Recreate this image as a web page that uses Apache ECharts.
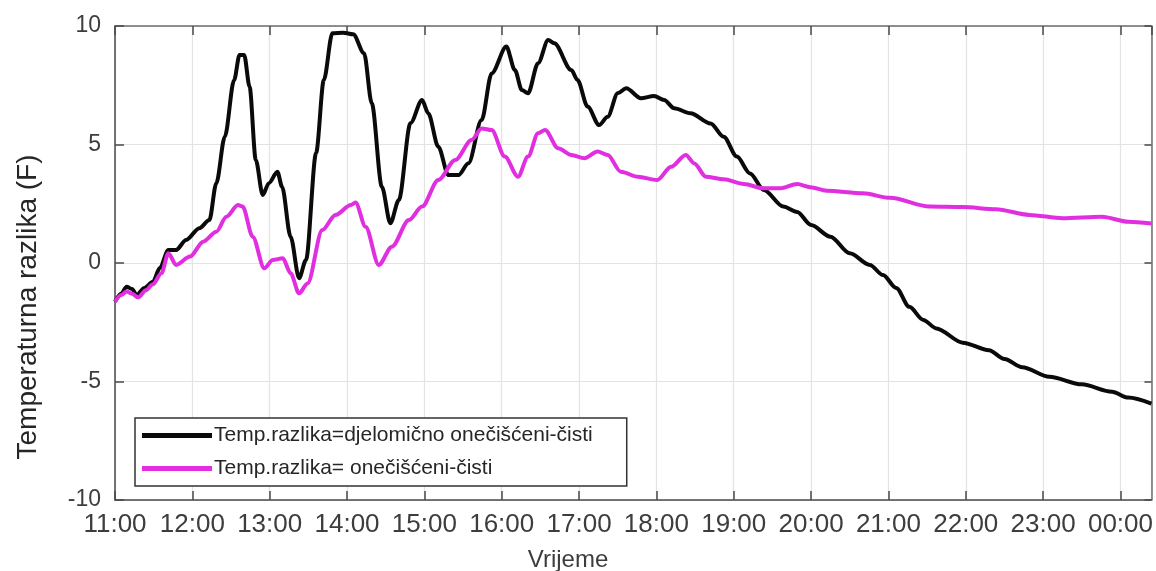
<!DOCTYPE html>
<html>
<head>
<meta charset="utf-8">
<script src="https://cdn.jsdelivr.net/npm/echarts@6/dist/echarts.min.js"></script>
<style>
  html, body { margin: 0; padding: 0; background: #fff; }
  #chart { width: 1156px; height: 571px; }
</style>
</head>
<body>
<div id="chart"></div>
<script>
// Time of day in decimal hours (24+ means after midnight)
const hoursPartly = [11.00, 11.08, 11.15, 11.22, 11.28, 11.38, 11.49, 11.58, 11.69, 11.79, 11.92, 12.09, 12.22, 12.31, 12.42, 12.54, 12.61, 12.67, 12.74, 12.82, 12.91, 12.99, 13.10, 13.16, 13.27, 13.38, 13.47, 13.60, 13.70, 13.81, 13.95, 14.08, 14.22, 14.32, 14.45, 14.56, 14.67, 14.82, 14.97, 15.05, 15.18, 15.31, 15.44, 15.57, 15.74, 15.87, 16.06, 16.17, 16.26, 16.34, 16.47, 16.60, 16.68, 16.90, 16.98, 17.11, 17.26, 17.37, 17.50, 17.61, 17.80, 17.97, 18.10, 18.23, 18.44, 18.70, 18.87, 19.04, 19.21, 19.39, 19.64, 19.82, 20.00, 20.25, 20.50, 20.76, 20.93, 21.10, 21.27, 21.45, 21.62, 21.96, 22.30, 22.50, 22.73, 23.08, 23.50, 23.89, 24.10, 24.40];
const tempPartly = [-1.63, -1.30, -1.00, -1.10, -1.35, -1.05, -0.79, -0.21, 0.55, 0.55, 0.97, 1.47, 1.81, 3.37, 5.33, 7.72, 8.78, 8.78, 7.44, 4.35, 2.87, 3.37, 3.85, 3.22, 1.11, -0.64, 0.13, 4.64, 7.72, 9.69, 9.72, 9.65, 8.85, 6.74, 3.22, 1.68, 2.66, 5.90, 6.88, 6.32, 4.91, 3.71, 3.71, 4.21, 6.03, 8.00, 9.13, 8.14, 7.30, 7.16, 8.43, 9.41, 9.27, 8.14, 7.72, 6.60, 5.82, 6.17, 7.16, 7.37, 6.95, 7.05, 6.88, 6.53, 6.32, 5.89, 5.33, 4.49, 3.78, 3.08, 2.38, 2.15, 1.60, 1.11, 0.41, -0.08, -0.51, -1.05, -1.85, -2.40, -2.76, -3.36, -3.68, -4.05, -4.40, -4.80, -5.12, -5.43, -5.68, -5.93];

const hoursDirty = [11.00, 11.08, 11.15, 11.22, 11.30, 11.40, 11.49, 11.60, 11.69, 11.79, 11.97, 12.14, 12.31, 12.44, 12.59, 12.65, 12.78, 12.93, 13.04, 13.17, 13.27, 13.38, 13.49, 13.68, 13.85, 14.05, 14.11, 14.24, 14.41, 14.58, 14.80, 14.97, 15.18, 15.40, 15.61, 15.74, 15.87, 16.04, 16.21, 16.34, 16.47, 16.56, 16.73, 16.90, 17.07, 17.24, 17.37, 17.54, 17.76, 18.01, 18.19, 18.38, 18.49, 18.64, 18.87, 19.13, 19.39, 19.60, 19.82, 19.99, 20.20, 20.67, 21.02, 21.53, 21.96, 22.39, 22.82, 23.25, 23.76, 24.10, 24.40];
const tempDirty = [-1.63, -1.35, -1.20, -1.30, -1.45, -1.15, -0.90, -0.43, 0.41, -0.08, 0.27, 0.90, 1.32, 1.95, 2.45, 2.38, 1.11, -0.22, 0.13, 0.20, -0.43, -1.28, -0.86, 1.39, 2.03, 2.45, 2.55, 1.53, -0.08, 0.69, 1.81, 2.38, 3.50, 4.35, 5.19, 5.68, 5.61, 4.49, 3.64, 4.49, 5.47, 5.61, 4.84, 4.56, 4.42, 4.70, 4.56, 3.85, 3.64, 3.50, 4.06, 4.56, 4.20, 3.64, 3.53, 3.33, 3.15, 3.15, 3.33, 3.20, 3.05, 2.94, 2.75, 2.38, 2.36, 2.27, 2.03, 1.89, 1.95, 1.74, 1.67];

const yTicks = [-10, -5, 0, 5, 10];
const seriesNames = ['Temp.razlika=djelomično onečišćeni-čisti', 'Temp.razlika= onečišćeni-čisti'];

const zip = (xs, ys) => xs.map((x, i) => [x, ys[i]]);
const fmtHour = v => String(Math.round(v) % 24).padStart(2, '0') + ':00';

const FONT = '"Liberation Sans", Arial, sans-serif';
const gridColor = '#e3e3e3';
const axisColor = '#4a4a4a';

const chart = echarts.init(document.getElementById('chart'), null, { renderer: 'canvas' });

const commonX = {
  type: 'value',
  min: 11,
  max: 24.4,
  interval: 1
};

chart.setOption({
  animation: false,
  backgroundColor: '#ffffff',
  textStyle: { fontFamily: FONT },
  grid: { left: 115, top: 26, right: 0, bottom: 71, containLabel: false },
  xAxis: [
    Object.assign({}, commonX, {
      position: 'bottom',
      axisLine: { show: true, onZero: false, lineStyle: { color: axisColor, width: 1.5 } },
      axisTick: { show: true, inside: true, length: 9, lineStyle: { color: axisColor, width: 1.5 } },
      splitLine: { show: true, lineStyle: { color: gridColor, width: 1.2 } },
      axisLabel: {
        formatter: fmtHour, fontSize: 26, color: '#3d3d3d', margin: 12,
        fontFamily: FONT, showMaxLabel: false, showMinLabel: true
      }
    }),
    Object.assign({}, commonX, {
      position: 'top',
      axisLine: { show: true, onZero: false, lineStyle: { color: '#6e6e6e', width: 1.5 } },
      axisTick: { show: true, inside: true, length: 9, lineStyle: { color: axisColor, width: 1.5 } },
      splitLine: { show: false },
      axisLabel: { show: false }
    })
  ],
  yAxis: [
    {
      type: 'value', min: yTicks[0], max: yTicks[yTicks.length - 1], interval: 5,
      position: 'left',
      axisLine: { show: true, onZero: false, lineStyle: { color: axisColor, width: 1.5 } },
      axisTick: { show: true, inside: true, length: 9, lineStyle: { color: axisColor, width: 1.5 } },
      splitLine: { show: true, lineStyle: { color: gridColor, width: 1.2 } },
      axisLabel: { fontSize: 23, color: '#3d3d3d', margin: 14, fontFamily: FONT }
    },
    {
      type: 'value', min: yTicks[0], max: yTicks[yTicks.length - 1], interval: 5,
      position: 'right',
      axisLine: { show: true, onZero: false, lineStyle: { color: '#6e6e6e', width: 1.5 } },
      axisTick: { show: true, inside: true, length: 7, lineStyle: { color: axisColor, width: 1.5 } },
      splitLine: { show: false },
      axisLabel: { show: false }
    }
  ],
  legend: {
    orient: 'vertical',
    left: 135,
    top: 418,
    padding: [7, 34, 7, 7],
    itemGap: 12,
    itemWidth: 70,
    itemHeight: 5,
    icon: 'rect',
    backgroundColor: '#ffffff',
    borderColor: '#333333',
    borderWidth: 1.5,
    borderRadius: 0,
    textStyle: { fontSize: 21, color: '#262626', fontFamily: FONT, padding: [0, 0, 0, -3] },
    data: seriesNames
  },
  graphic: [
    {
      type: 'text',
      x: 28, y: 307,
      rotation: Math.PI / 2,
      style: {
        text: 'Temperaturna razlika (F)',
        font: '28px ' + FONT,
        fill: '#262626',
        textAlign: 'center',
        textVerticalAlign: 'middle'
      }
    },
    {
      type: 'text',
      x: 568, y: 560,
      style: {
        text: 'Vrijeme',
        font: '24px ' + FONT,
        fill: '#3d3d3d',
        textAlign: 'center',
        textVerticalAlign: 'middle'
      }
    }
  ],
  series: [
    {
      name: seriesNames[0],
      type: 'line',
      xAxisIndex: 0, yAxisIndex: 0,
      data: zip(hoursPartly, tempPartly),
      showSymbol: false,
      smooth: 0.3,
      smoothMonotone: 'x',
      lineStyle: { color: '#0a0a0a', width: 4 },
      itemStyle: { color: '#0a0a0a' },
      z: 3
    },
    {
      name: seriesNames[1],
      type: 'line',
      xAxisIndex: 0, yAxisIndex: 0,
      data: zip(hoursDirty, tempDirty),
      showSymbol: false,
      smooth: 0.3,
      smoothMonotone: 'x',
      lineStyle: { color: '#e02ee0', width: 4 },
      itemStyle: { color: '#e02ee0' },
      z: 4
    }
  ]
});
</script>
</body>
</html>
